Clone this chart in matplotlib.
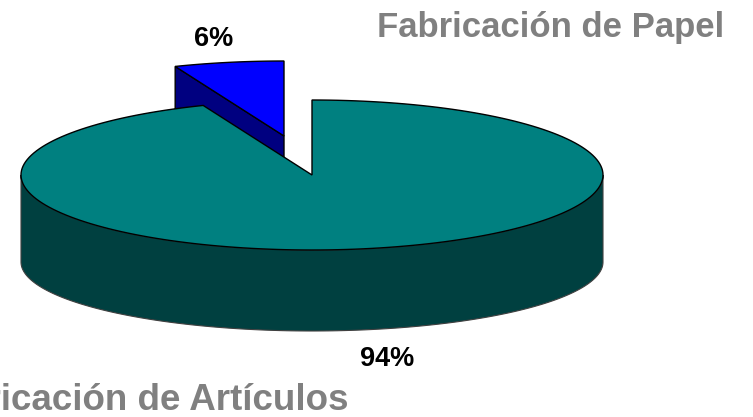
import numpy as np
import matplotlib
matplotlib.use("Agg")
import matplotlib.pyplot as plt

plt.rcParams['font.family'] = ['Liberation Sans', 'DejaVu Sans']

# parts of the pie (percent)
labels = ["Fabricación de Artículos", "Fabricación de Papel"]
shares = [93.9, 6.1]
pct_labels = ["94%", "6%"]

# pie drawn in pixel space
cx, cy = 312, 175
rx, ry = 291, 75
depth = 87
ry_bottom = 69
explode_dx, explode_dy = -28, -39

TEAL = "#008080"
TEAL_DARK = "#004040"
BLUE = "#0000FF"
BLUE_DARK = "#000080"


def arc(start, end, dx=0, dy=0, radius_y=ry):
    t = np.radians(np.linspace(start, end, 200))
    return cx + dx + rx * np.cos(t), cy + dy - radius_y * np.sin(t)


fig = plt.figure(figsize=(7.53, 4.17), dpi=100)
ax = fig.add_axes([0, 0, 1, 1])
ax.set_xlim(0, 753)
ax.set_ylim(417, 0)
ax.axis("off")

small_angle = 360 * shares[1] / sum(shares)

# exploded slice: inner wall first, the big slice covers its lower part
x_s, y_s = arc(90, 90 + small_angle, explode_dx, explode_dy)
apex_x, apex_y = cx + explode_dx, cy + explode_dy
ax.fill([x_s[-1], apex_x, apex_x, x_s[-1]],
        [y_s[-1], apex_y, apex_y + depth, y_s[-1] + depth],
        facecolor=BLUE_DARK, edgecolor="black", lw=1, zorder=1)
ax.fill(np.r_[apex_x, x_s], np.r_[apex_y, y_s],
        facecolor=BLUE, edgecolor="black", lw=1, zorder=2)

# big slice: rim then top
x_r, y_r = arc(180, 360)
x_b, y_b = arc(180, 360, dy=depth, radius_y=ry_bottom)
ax.fill(np.r_[x_r, x_b[::-1]], np.r_[y_r, y_b[::-1]],
        facecolor=TEAL_DARK, edgecolor="#404040", lw=0.8, zorder=3)
x_t, y_t = arc(90 + small_angle, 450)
ax.fill(np.r_[cx, x_t], np.r_[cy, y_t],
        facecolor=TEAL, edgecolor="black", lw=1, zorder=4)

# texts
ax.text(214, 39, pct_labels[1], fontsize=19.5, fontweight="bold", color="black",
        ha="center", va="center", zorder=5)
ax.text(387.5, 359.5, pct_labels[0], fontsize=19.5, fontweight="bold", color="black",
        ha="center", va="center", zorder=5)
ax.text(724, 27, labels[1], fontsize=25, fontweight="bold", color="#808080",
        ha="right", va="center", zorder=5)
ax.text(349, 401, labels[0], fontsize=26.5, fontweight="bold", color="#808080",
        ha="right", va="center", zorder=5)

fig.savefig("out.png", dpi=100)
plt.close(fig)
